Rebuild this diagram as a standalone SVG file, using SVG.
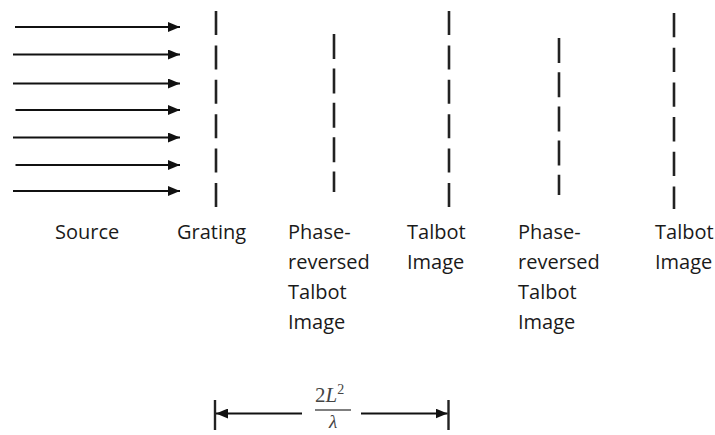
<svg xmlns="http://www.w3.org/2000/svg" width="715" height="435" viewBox="0 0 715 435">
  <defs>
    <marker id="ah" viewBox="0 0 12 10" refX="12" refY="5" markerWidth="12" markerHeight="10" markerUnits="userSpaceOnUse" orient="auto-start-reverse">
      <path d="M0,0 L12,5 L0,10 Z" fill="#111"/>
    </marker>
    <style>
      .ray { stroke: #111; stroke-width: 1.8; fill: none; marker-end: url(#ah); }
      .plane { stroke: #222; stroke-width: 2.6; fill: none; }
      .lbl { font-family: "Open Sans", "Noto Sans", sans-serif; font-size: 20px; fill: #1a1a1a; }
      .dim { stroke: #111; stroke-width: 1.8; fill: none; }
      .tick { stroke: #222; stroke-width: 2.4; }
      .math { font-family: "Liberation Serif", "DejaVu Serif", serif; fill: #444; }
    </style>
  </defs>
  <rect width="715" height="435" fill="#fff"/>

  <g id="connectors">
    <line class="ray" x1="15" y1="27" x2="180" y2="27"/>
    <line class="ray" x1="13" y1="54.5" x2="180" y2="54.5"/>
    <line class="ray" x1="13" y1="83.5" x2="180" y2="83.5"/>
    <line class="ray" x1="15.5" y1="110" x2="180" y2="110"/>
    <line class="ray" x1="13" y1="137.5" x2="180" y2="137.5"/>
    <line class="ray" x1="15.5" y1="165" x2="180" y2="165"/>
    <line class="ray" x1="13" y1="191" x2="180" y2="191"/>
  </g>

  <g id="source">
    <text class="lbl" x="55" y="239">Source</text>
  </g>

  <g id="grating">
    <line class="plane" x1="216" y1="11" x2="216" y2="207" stroke-dasharray="24 10.4"/>
    <text class="lbl" x="177" y="239">Grating</text>
  </g>

  <g id="phase-reversed-1">
    <line class="plane" x1="334" y1="34" x2="334" y2="192" stroke-dasharray="25 9.4"/>
    <text class="lbl" x="288" y="239">Phase-</text>
    <text class="lbl" x="288" y="269">reversed</text>
    <text class="lbl" x="288" y="299">Talbot</text>
    <text class="lbl" x="288" y="329">Image</text>
  </g>

  <g id="talbot-1">
    <line class="plane" x1="449" y1="11" x2="449" y2="207" stroke-dasharray="24 10.4"/>
    <text class="lbl" x="407" y="239">Talbot</text>
    <text class="lbl" x="407" y="269">Image</text>
  </g>

  <g id="phase-reversed-2">
    <line class="plane" x1="559" y1="38" x2="559" y2="195" stroke-dasharray="25 9.2"/>
    <text class="lbl" x="518" y="239">Phase-</text>
    <text class="lbl" x="518" y="269">reversed</text>
    <text class="lbl" x="518" y="299">Talbot</text>
    <text class="lbl" x="518" y="329">Image</text>
  </g>

  <g id="talbot-2">
    <line class="plane" x1="674" y1="13" x2="674" y2="209" stroke-dasharray="24.3 10.4"/>
    <text class="lbl" x="655" y="239">Talbot</text>
    <text class="lbl" x="655" y="269">Image</text>
  </g>

  <g id="dimension">
    <line class="tick" x1="215" y1="400" x2="215" y2="430"/>
    <line class="tick" x1="448.5" y1="400" x2="448.5" y2="430"/>
    <line class="dim" x1="302" y1="413.5" x2="216" y2="413.5" marker-end="url(#ah)"/>
    <line class="dim" x1="361" y1="413.5" x2="447.5" y2="413.5" marker-end="url(#ah)"/>
    <text class="math" x="315" y="402" font-size="21">2<tspan font-style="italic">L</tspan><tspan font-size="14" dy="-8">2</tspan></text>
    <line x1="315" y1="410" x2="351" y2="410" stroke="#555" stroke-width="1.5"/>
    <text class="math" x="333" y="428" font-size="19" font-style="italic" text-anchor="middle">λ</text>
  </g>
</svg>
